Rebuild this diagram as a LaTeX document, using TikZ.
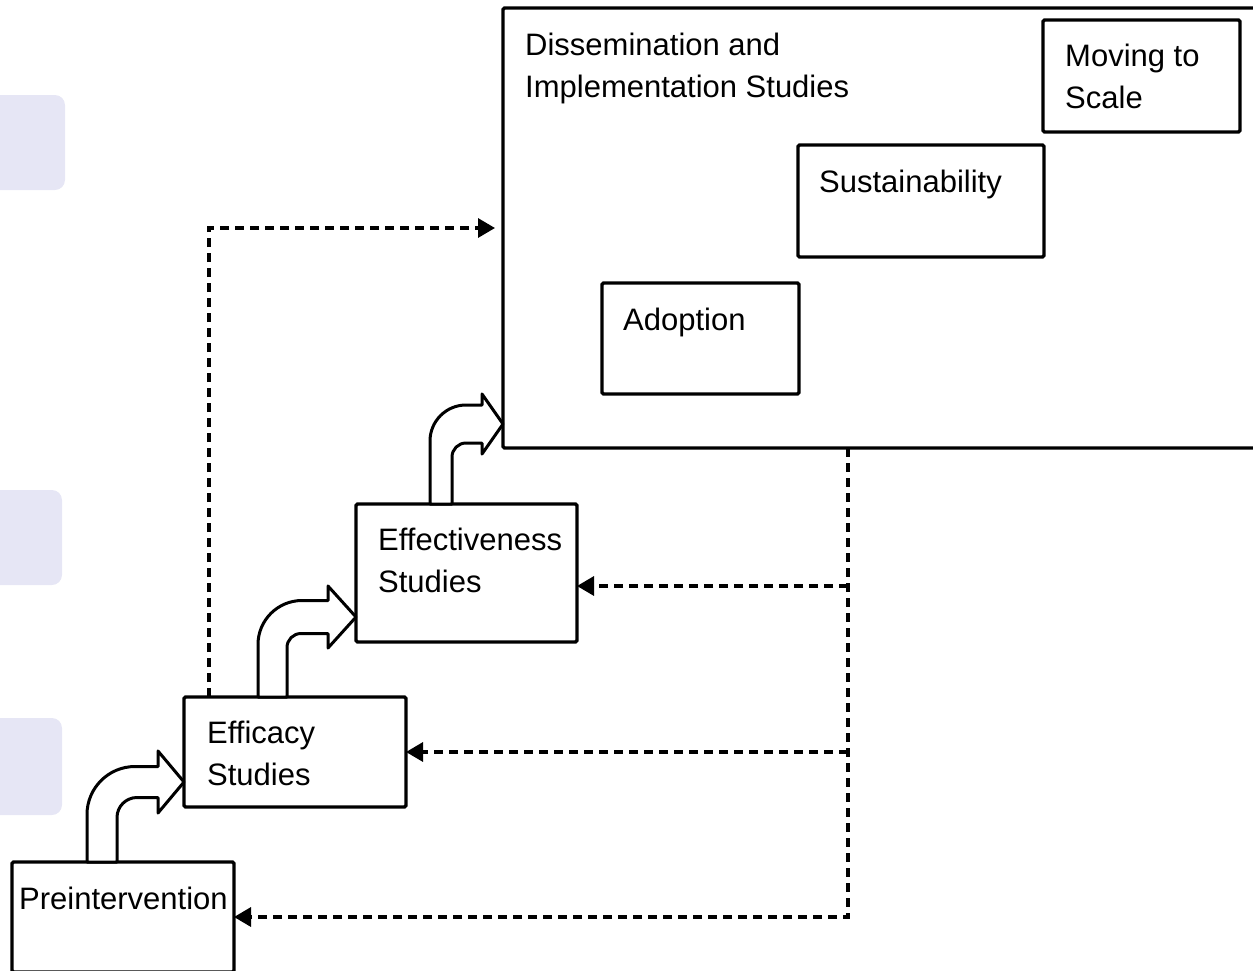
\documentclass[tikz,border=0pt]{standalone}
\usepackage{fontspec}
\setmainfont{Liberation Sans}
\usetikzlibrary{arrows.meta,calc}

\definecolor{lavender}{HTML}{E6E6F5}

\tikzset{
  x=1pt, y=-1pt,
  stagebox/.style={draw=black, line width=3.3pt, fill=white, rectangle,
    rounded corners=1.5pt, inner sep=0pt, outer sep=0pt, anchor=north west},
  caption/.style={font=\fontsize{31pt}{42pt}\selectfont, align=left,
    anchor=base west, inner sep=0pt},
  blockarrow/.style={draw=black, line width=3pt, fill=white, line join=round},
  feedback/.style={draw=black, line width=3.3pt, dash pattern=on 9pt off 6pt,
    -{Triangle[length=17pt,width=19pt]}},
}

% bent-up block arrow: base (left foot), tip, vertical shaft width,
% horizontal shaft height, head half height, head length, outer radius, inner radius
\newcommand{\bentarrow}[8]{%
  \path[blockarrow] let \p1=(#1), \p2=(#2) in
    (\x1,\y1) -- (\x1,{\y2+#4pt/2-#7pt})
    .. controls (\x1,{\y2+#4pt/2-0.448*#7pt}) and ({\x1+0.448*#7pt},{\y2+#4pt/2}) ..
    ({\x1+#7pt},{\y2+#4pt/2})
    -- ({\x2-#6pt},{\y2+#4pt/2}) -- ({\x2-#6pt},{\y2+#5pt}) -- (\x2,\y2)
    -- ({\x2-#6pt},{\y2-#5pt}) -- ({\x2-#6pt},{\y2-#4pt/2})
    -- ({\x1+#3pt+#8pt},{\y2-#4pt/2})
    .. controls ({\x1+#3pt+0.448*#8pt},{\y2-#4pt/2}) and ({\x1+#3pt},{\y2-#4pt/2-0.448*#8pt}) ..
    ({\x1+#3pt},{\y2-#4pt/2-#8pt}) -- ({\x1+#3pt},\y1) -- cycle;}

\begin{document}
\begin{tikzpicture}
\useasboundingbox (0,0) rectangle (1253,970);

% soft tabs along the left margin
\fill[lavender, rounded corners=10pt] (-20,95) rectangle (65,190);
\fill[lavender, rounded corners=10pt] (-20,490) rectangle (62,585);
\fill[lavender, rounded corners=10pt] (-20,718) rectangle (62,815);

% stage boxes
\node[stagebox, minimum width=790pt, minimum height=440pt] (dis) at (503,8) {};
\node[stagebox, minimum width=197pt, minimum height=112pt] (move) at (1043,20) {};
\node[stagebox, minimum width=246pt, minimum height=112pt] (sus) at (798,145) {};
\node[stagebox, minimum width=197pt, minimum height=111pt] (adopt) at (602,283) {};
\node[stagebox, minimum width=221pt, minimum height=138pt] (effect) at (356,504) {};
\node[stagebox, minimum width=222pt, minimum height=110pt] (effic) at (184,697) {};
\node[stagebox, minimum width=222pt, minimum height=110pt] (pre) at (12,862) {};

% captions (two-line captions sit on the baseline of their last line)
\node[caption] (tdis) at ([shift={(22,89)}]dis.north west) {Dissemination and\\Implementation Studies};
\node[caption] (tmove) at ([shift={(22,88)}]move.north west) {Moving to\\Scale};
\node[caption] (tsus) at ([shift={(21,47)}]sus.north west) {Sustainability};
\node[caption] (tadopt) at ([shift={(21,47)}]adopt.north west) {Adoption};
\node[caption] (teffect) at ([shift={(22,88)}]effect.north west) {Effectiveness\\Studies};
\node[caption] (teffic) at ([shift={(23,88)}]effic.north west) {Efficacy\\Studies};
\node[caption] (tpre) at ([shift={(7,47)}]pre.north west) {Preintervention};

% progression arrows between stages
\bentarrow{[xshift=75pt]pre.north west}{[yshift=-30pt]effic.west}{30}{31}{31}{26}{48}{20}
\bentarrow{[xshift=74pt]effic.north west}{[yshift=-44pt]effect.west}{29}{33}{31}{28}{44}{14}
\bentarrow{[xshift=74pt]effect.north west}{[yshift=24pt]dis.south west}{22}{38}{30}{21}{36}{14}

% direct route from efficacy to dissemination
\draw[feedback, shorten >=8pt] ([xshift=25pt]effic.north west) |- (dis.west);

% feedback from dissemination back to earlier stages
\coordinate (drop) at ([xshift=345pt]dis.south west);
\coordinate (efftip) at ([yshift=-13pt]effect.east);
\draw[feedback] (drop) |- (pre.east);
\draw[feedback] (drop |- efftip) -- (efftip);
\draw[feedback] (drop |- effic.east) -- (effic.east);
\end{tikzpicture}
\end{document}
